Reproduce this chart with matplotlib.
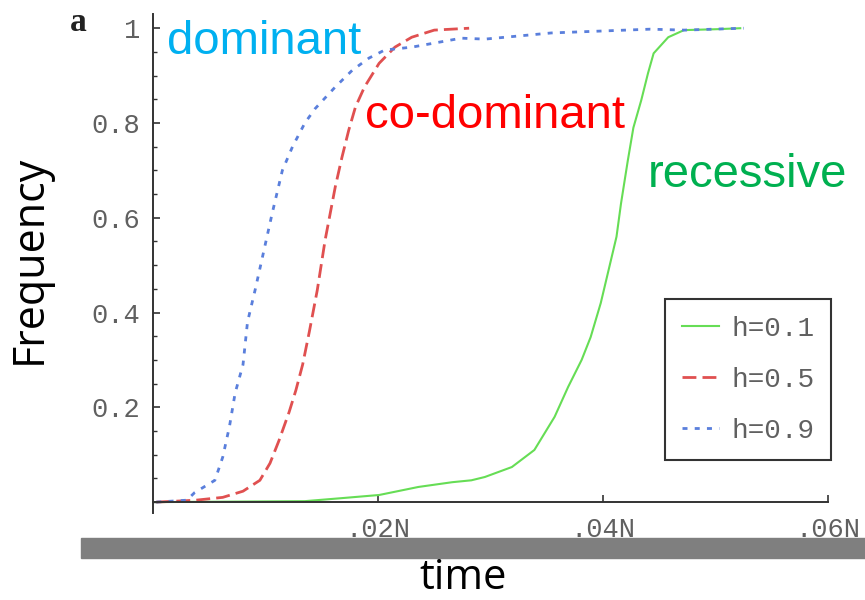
import matplotlib
matplotlib.use('Agg')
import matplotlib.pyplot as plt
from matplotlib.patches import Rectangle
from matplotlib.ticker import MultipleLocator, FixedLocator

# DATA (time in units of N)
green_x = [0.0003, 0.0135, 0.0166, 0.0201, 0.0236, 0.0266, 0.0283, 0.0295, 0.0319,
           0.0339, 0.0357, 0.0369, 0.0381, 0.0389, 0.0398, 0.0405, 0.0412, 0.0416,
           0.0422, 0.0427, 0.0434, 0.0440, 0.0445, 0.0458, 0.0472, 0.0502, 0.0522]
green_y = [0, 0.002, 0.008, 0.015, 0.032, 0.042, 0.046, 0.053, 0.074,
           0.11, 0.18, 0.243, 0.30, 0.348, 0.42, 0.49, 0.56, 0.63,
           0.72, 0.79, 0.848, 0.905, 0.947, 0.981, 0.996, 0.998, 1.0]

red_x = [0.0003, 0.0038, 0.0062, 0.0080, 0.0095, 0.0104, 0.0112, 0.0121, 0.0127,
         0.0133, 0.0139, 0.0146, 0.0153, 0.0162, 0.0168, 0.0174, 0.0180, 0.0188,
         0.0201, 0.0215, 0.0230, 0.0250, 0.0281]
red_y = [0, 0.004, 0.01, 0.023, 0.046, 0.082, 0.13, 0.19, 0.236,
         0.29, 0.36, 0.447, 0.553, 0.665, 0.728, 0.785, 0.834, 0.876,
         0.926, 0.96, 0.981, 0.996, 1.0]

blue_x = [0.0003, 0.0030, 0.0037, 0.0055, 0.0062, 0.0068, 0.0073, 0.0080, 0.0084,
          0.0091, 0.0100, 0.0106, 0.0115, 0.0124, 0.0135, 0.0144, 0.0162, 0.0177,
          0.0192, 0.0206, 0.0230, 0.0274, 0.0295, 0.0354, 0.0442, 0.0472, 0.0525]
blue_y = [0, 0.004, 0.02, 0.046, 0.095, 0.16, 0.23, 0.29, 0.38,
          0.45, 0.546, 0.61, 0.70, 0.75, 0.80, 0.83, 0.876, 0.911,
          0.937, 0.954, 0.96, 0.979, 0.977, 0.99, 0.998, 0.996, 1.0]

series_labels = ['h=0.1', 'h=0.5', 'h=0.9']
x_ticks = [0.02, 0.04, 0.06]
x_tick_labels = ['.02N', '.04N', '.06N']
y_ticks = [0.2, 0.4, 0.6, 0.8, 1.0]
y_tick_labels = ['0.2', '0.4', '0.6', '0.8', '1']

W, H = 865, 600
fig = plt.figure(figsize=(W / 100, H / 100), dpi=100)
ax = fig.add_axes([153 / W, 87 / H, 675 / W, 499 / H])

ax.plot(green_x, green_y, color='#66dd55', lw=1.5, label=series_labels[0])
ax.plot(red_x, red_y, color='#e05050', lw=2, dashes=(5, 2.2), label=series_labels[1])
ax.plot(blue_x, blue_y, color='#5a7fdc', lw=2, dashes=(1.8, 2.6), label=series_labels[2])

ax.set_xlim(0, 0.06)
ax.set_ylim(-0.023, 1.03)

for s in ['top', 'right']:
    ax.spines[s].set_visible(False)
ax.spines['bottom'].set_position(('data', 0))
for s in ['left', 'bottom']:
    ax.spines[s].set_color('#333333')
    ax.spines[s].set_linewidth(1.4)

mono = 'Liberation Mono'
ax.xaxis.set_major_locator(FixedLocator(x_ticks))
ax.set_xticklabels(x_tick_labels, family=mono, fontsize=19.5, color='#606060')
ax.yaxis.set_major_locator(FixedLocator(y_ticks))
ax.set_yticklabels(y_tick_labels, family=mono, fontsize=19.5, color='#606060')
ax.yaxis.set_minor_locator(MultipleLocator(0.05))
ax.tick_params(axis='x', direction='in', length=5, width=1.2, color='#333333', pad=11)
ax.tick_params(axis='y', which='major', direction='in', length=5, width=1.2, color='#333333', pad=9)
ax.tick_params(axis='y', which='minor', direction='in', length=3, width=1, color='#333333')

leg = ax.legend(loc='upper left', bbox_to_anchor=(665 / W, 1 - 299 / H),
                bbox_transform=fig.transFigure, borderaxespad=0,
                prop={'family': mono, 'size': 20}, labelcolor='#606060',
                handlelength=1.35, handletextpad=0.45, labelspacing=0.9,
                borderpad=0.6, fancybox=False, framealpha=1)
leg.get_frame().set_edgecolor('#333333')
leg.get_frame().set_linewidth(1.5)

# annotations
sans = 'Liberation Sans'
fig.text(167 / W, 1 - 54 / H, 'dominant', family=sans, fontsize=34, color='#00b0f0', va='baseline')
fig.text(365 / W, 1 - 128 / H, 'co-dominant', family=sans, fontsize=34, color='#ff0000', va='baseline')
fig.text(648 / W, 1 - 187 / H, 'recessive', family=sans, fontsize=34, color='#00b050', va='baseline')
fig.text(70 / W, 1 - 31 / H, 'a', family='Liberation Serif', fontsize=24, fontweight='bold',
         color='#222222', va='baseline')

# gray band and axis titles
fig.patches.append(Rectangle((81 / W, 1 - 558 / H), 1 - 81 / W, 20 / H,
                             transform=fig.transFigure, color='#7f7f7f', zorder=0))
fig.text(463 / W, 1 - 599 / H, 'time', family='Open Sans', fontsize=30, ha='center', va='bottom')
fig.text(30 / W, 1 - 259 / H, 'Frequency', family='Open Sans', fontsize=31, rotation=90,
         ha='center', va='center')

fig.savefig('out.png', dpi=100)
